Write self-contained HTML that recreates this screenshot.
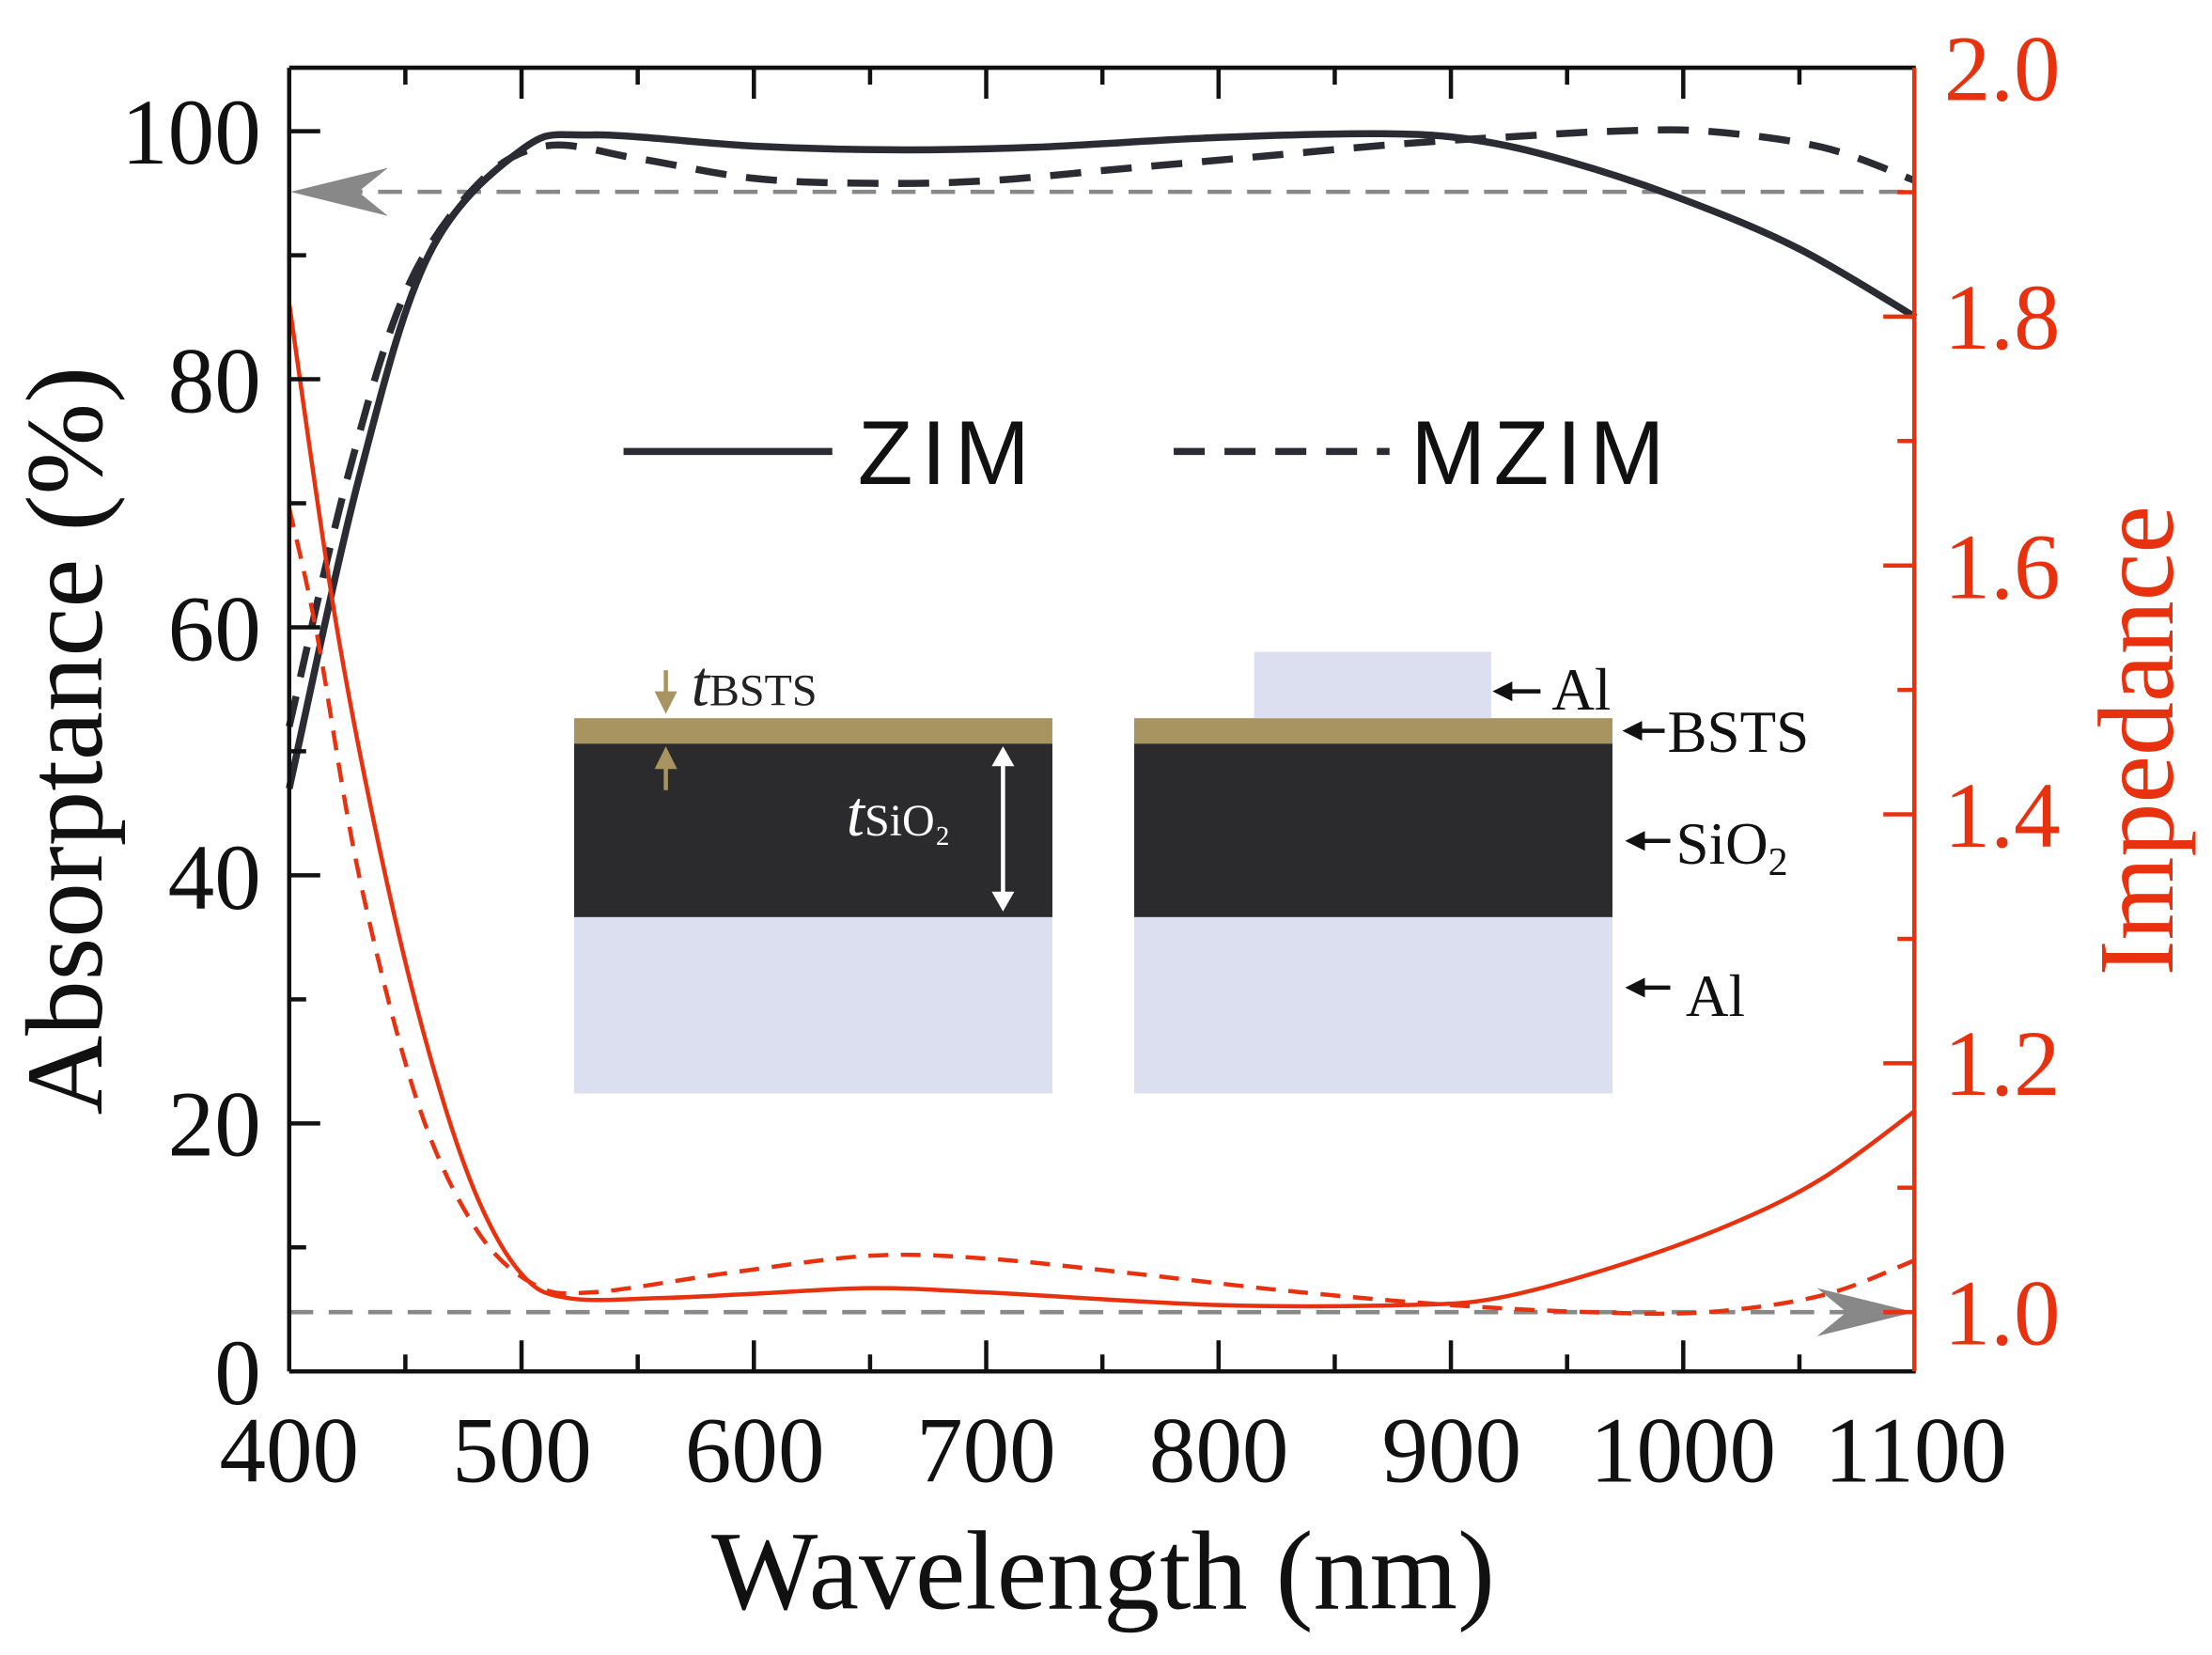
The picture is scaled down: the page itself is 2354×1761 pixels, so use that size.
<!DOCTYPE html>
<html><head><meta charset="utf-8"><style>html,body{margin:0;padding:0;background:#fff}svg{display:block}</style></head>
<body>
<svg id="s" width="2354" height="1761" viewBox="0 0 1568 1173" xmlns="http://www.w3.org/2000/svg" font-family="Liberation Serif, serif">
<rect width="1568" height="1173" fill="#fff"/>
<rect x="407" y="650" width="339" height="125" fill="#dcdff0"/>
<rect x="407" y="527" width="339" height="123" fill="#2b2b2e"/>
<rect x="407" y="509" width="339" height="18" fill="#a89461"/>
<rect x="804" y="650" width="339" height="125" fill="#dcdff0"/>
<rect x="804" y="527" width="339" height="123" fill="#2b2b2e"/>
<rect x="804" y="509" width="339" height="18" fill="#a89461"/>
<rect x="889" y="462" width="168" height="47" fill="#dcdff0"/>
<g stroke="#a89461" stroke-width="3" fill="#a89461">
<line x1="472" y1="475" x2="472" y2="495"/><polygon points="464,490 480,490 472,506" stroke="none"/>
<line x1="472" y1="540" x2="472" y2="560"/><polygon points="464,545 480,545 472,529" stroke="none"/>
</g>
<text x="490" y="500" font-size="46" font-style="italic" fill="#222">t<tspan font-size="32" font-style="normal">BSTS</tspan></text>
<g stroke="#fff" stroke-width="3" fill="#fff">
<line x1="711" y1="540" x2="711" y2="635"/><polygon points="703,543 719,543 711,529" stroke="none"/><polygon points="703,632 719,632 711,646" stroke="none"/>
</g>
<text x="600" y="592" font-size="46" font-style="italic" fill="#fff">t<tspan font-size="32" font-style="normal">SiO₂</tspan></text>
<g fill="#111" font-size="42">
<text x="1100" y="503">Al</text>
<text x="1182" y="533">BSTS</text>
<text x="1188" y="612">SiO<tspan font-size="28" dy="8">2</tspan></text>
<text x="1195" y="720">Al</text>
</g>
<g stroke="#111" stroke-width="3" fill="#111">
<line x1="1068" y1="490" x2="1092" y2="490"/><polygon points="1058,490 1072,483 1072,497" stroke="none"/>
<line x1="1160" y1="518" x2="1180" y2="518"/><polygon points="1150,518 1164,511 1164,525" stroke="none"/>
<line x1="1162" y1="596" x2="1184" y2="596"/><polygon points="1152,596 1166,589 1166,603" stroke="none"/>
<line x1="1162" y1="700" x2="1184" y2="700"/><polygon points="1152,700 1166,693 1166,707" stroke="none"/>
</g>
<line x1="442" y1="320" x2="590" y2="320" stroke="#2b2b33" stroke-width="5"/>
<text x="608" y="343" font-size="64" fill="#111" font-family="Liberation Sans, sans-serif" textLength="122">ZIM</text>
<line x1="832" y1="320" x2="985" y2="320" stroke="#2b2b33" stroke-width="5" stroke-dasharray="22,14"/>
<text x="1000" y="343" font-size="64" fill="#111" font-family="Liberation Sans, sans-serif" textLength="180">MZIM</text>
<line x1="240" y1="136" x2="1358" y2="136" stroke="#888" stroke-width="3" stroke-dasharray="17,11"/>
<polygon points="206,136 275,119 254,136 275,153" fill="#888"/>
<line x1="205" y1="930" x2="1320" y2="930" stroke="#888" stroke-width="3" stroke-dasharray="17,11"/>
<polygon points="1357,930 1288,913 1309,930 1288,947" fill="#888"/>
<g id="curves" fill="none"></g>
<g stroke="#111" stroke-width="3" fill="none">
<line x1="205" y1="48" x2="1358" y2="48"/>
<line x1="205" y1="48" x2="205" y2="972"/>
<line x1="205" y1="972" x2="1358" y2="972"/>
</g>
<line x1="1357" y1="48" x2="1357" y2="972" stroke="#e8310e" stroke-width="3"/>
<g id="ticks"></g>
<g font-size="66" fill="#111" text-anchor="end">
<text x="185" y="116">100</text><text x="185" y="292">80</text><text x="185" y="468">60</text><text x="185" y="644">40</text><text x="185" y="819">20</text><text x="185" y="995">0</text>
</g>
<g font-size="66" fill="#111" text-anchor="middle">
<text x="205" y="1050">400</text><text x="370" y="1050">500</text><text x="535" y="1050">600</text><text x="699" y="1050">700</text><text x="864" y="1050">800</text><text x="1029" y="1050">900</text><text x="1193" y="1050">1000</text><text x="1358" y="1050">1100</text>
</g>
<g font-size="66" fill="#e8310e">
<text x="1378" y="71">2.0</text><text x="1378" y="247">1.8</text><text x="1378" y="424">1.6</text><text x="1378" y="600">1.4</text><text x="1378" y="776">1.2</text><text x="1378" y="953">1.0</text>
</g>
<text transform="translate(72,525) rotate(-90)" font-size="78" fill="#111" text-anchor="middle">Absorptance (%)</text>
<text transform="translate(1540,525) rotate(-90)" font-size="76" fill="#e8310e" text-anchor="middle">Impedance</text>
<text x="782" y="1140" font-size="80" fill="#111" text-anchor="middle">Wavelength (nm)</text>
</svg>
<script>
var X=l=>205+(l-400)*1.647, YA=a=>972-a*8.79;
function path(pts){var p=pts.map(q=>[q[0],q[1]]);var d="M"+p[0][0]+","+p[0][1];
for(var i=0;i<p.length-1;i++){var p0=p[Math.max(0,i-1)],p1=p[i],p2=p[i+1],p3=p[Math.min(p.length-1,i+2)];
d+=" C"+(p1[0]+(p2[0]-p0[0])/6)+","+(p1[1]+(p2[1]-p0[1])/6)+" "+(p2[0]-(p3[0]-p1[0])/6)+","+(p2[1]-(p3[1]-p1[1])/6)+" "+p2[0]+","+p2[1];}return d;}
var ns="http://www.w3.org/2000/svg",g=document.getElementById("curves");
function add(pts,col,dash){var e=document.createElementNS(ns,"path");e.setAttribute("d",path(pts));e.setAttribute("stroke",col);e.setAttribute("stroke-width",col=="#e8310e"?3:5);if(dash)e.setAttribute("stroke-dasharray",dash);g.appendChild(e);}
var zim=[[400,47],[430,72],[460,90],[500,98.5],[530,99.7],[600,98.8],[660,98.5],[720,98.7],[800,99.5],[870,99.8],[910,99.3],[950,97.6],[1000,94.5],[1050,90.5],[1100,85]].map(q=>[X(q[0]),YA(q[1])]);
var mz=[[400,52],[425,72],[450,87],[480,95.5],[510,98.8],[550,97.8],[600,96.2],[650,95.8],[700,96],[760,97],[820,98],[880,99],[930,99.6],[970,100],[1010,100],[1060,98.7],[1100,96]].map(q=>[X(q[0]),YA(q[1])]);
var rz=[[400,215],[420,440],[440,610],[460,745],[480,845],[500,903],[520,920],[560,920],[600,917],[650,913],[700,916],[800,925],[880,925],[920,920],[970,898],[1020,868],[1060,835],[1100,787]].map(q=>[X(q[0]),q[1]]);
var rm=[[400,360],[412,450],[430,620],[455,780],[480,870],[505,910],[530,916],[590,902],[650,890],[700,892],[760,902],[830,915],[900,925],[960,930],[1010,930],[1060,918],[1100,893]].map(q=>[X(q[0]),q[1]]);
add(zim,"#2b2b33");add(mz,"#2b2b33","22,14");add(rz,"#e8310e");add(rm,"#e8310e","14,9");
var t=document.getElementById("ticks"),h="";
for(var l=450;l<=1100;l+=50){var x=X(l),len=(l%100==0)?22:12;if(l<1100)h+='<line x1="'+x+'" y1="48" x2="'+x+'" y2="'+(48+len)+'" stroke="#111" stroke-width="3"/>';if(l<1100)h+='<line x1="'+x+'" y1="972" x2="'+x+'" y2="'+(972-len)+'" stroke="#111" stroke-width="3"/>';}
for(var a=10;a<=100;a+=10){var y=YA(a),len=(a%20==0)?22:12;h+='<line x1="205" y1="'+y+'" x2="'+(205+len)+'" y2="'+y+'" stroke="#111" stroke-width="3"/>';}
for(var v=1.0;v<=2.0;v+=0.1){var y=930-(v-1)*882,len=(Math.round(v*10)%2==0)?22:12;h+='<line x1="1357" y1="'+y+'" x2="'+(1357-len)+'" y2="'+y+'" stroke="#e8310e" stroke-width="3"/>';}
t.innerHTML=h;
</script>
</body></html>
